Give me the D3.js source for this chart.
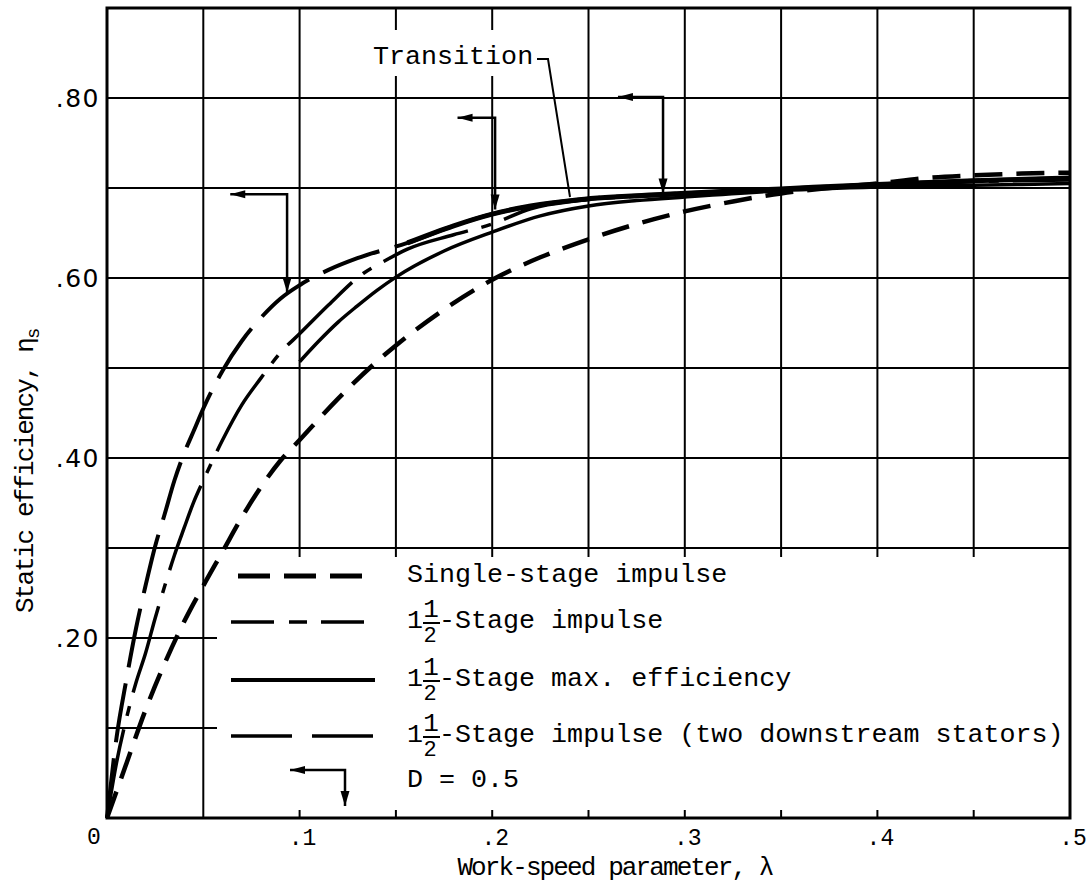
<!DOCTYPE html>
<html>
<head>
<meta charset="utf-8">
<script src="https://cdn.jsdelivr.net/npm/d3@7"></script>
<style>
  body { margin: 0; background: #fff; }
</style>
</head>
<body>
<svg id="chart"></svg>
<script>
// axis ticks / grid
const lamTicks = [0.1, 0.2, 0.3, 0.4, 0.5];
const etaTicks = [0.2, 0.4, 0.6, 0.8];
const lamGrid = [0.05, 0.1, 0.15, 0.2, 0.25, 0.3, 0.35, 0.4, 0.45];
const etaGrid = [0.1, 0.2, 0.3, 0.4, 0.5, 0.6, 0.7, 0.8];

// [lambda, eta]
const singleStage = [[0,0],[0.01,0.06],[0.02,0.12],[0.03,0.172],[0.04,0.218],[0.05,0.258],[0.06,0.296],
  [0.07,0.334],[0.08,0.368],[0.09,0.397],[0.1,0.42],[0.12,0.466],[0.14,0.507],[0.15,0.525],[0.175,0.565],
  [0.2,0.598],[0.225,0.623],[0.25,0.643],[0.275,0.66],[0.3,0.674],[0.325,0.685],[0.35,0.694],[0.375,0.7],
  [0.4,0.705],[0.425,0.711],[0.45,0.714],[0.475,0.716],[0.5,0.717]];
const halfImpulse = [[0,0],[0.005,0.062],[0.01,0.11],[0.015,0.15],[0.02,0.183],[0.025,0.222],[0.03,0.258],
  [0.035,0.292],[0.04,0.322],[0.045,0.351],[0.05,0.375],[0.06,0.42],[0.07,0.459],[0.08,0.489],[0.09,0.517],
  [0.1,0.538],[0.115,0.57],[0.133,0.605],[0.145,0.62],[0.156,0.632],[0.18,0.648],[0.2,0.66],[0.22,0.677],
  [0.245,0.686],[0.29,0.692],[0.35,0.698],[0.4,0.703],[0.45,0.707],[0.5,0.709]];
const halfMaxEff = [[0.1,0.507],[0.11,0.53],[0.12,0.551],[0.13,0.569],[0.14,0.586],[0.15,0.601],[0.175,0.63],
  [0.2,0.651],[0.225,0.669],[0.25,0.68],[0.275,0.686],[0.3,0.69],[0.35,0.697],[0.4,0.701],[0.45,0.703],[0.5,0.705]];
const halfStators = [[0,0],[0.005,0.09],[0.01,0.153],[0.015,0.21],[0.02,0.258],[0.025,0.302],[0.03,0.338],
  [0.035,0.375],[0.04,0.405],[0.045,0.43],[0.05,0.455],[0.06,0.497],[0.07,0.53],[0.08,0.556],[0.09,0.577],
  [0.1,0.592],[0.115,0.609],[0.13,0.622],[0.156,0.639],[0.18,0.658],[0.2,0.671],[0.22,0.68],[0.245,0.687],
  [0.29,0.693],[0.35,0.699],[0.4,0.704],[0.45,0.708],[0.5,0.711]];

// D = 0.5 markers: point on curve, height of corner, end of left arrow
const dMarks = [
  {lam: 0.0935, eta: 0.584, etaTop: 0.693, lamTip: 0.064},
  {lam: 0.2015, eta: 0.676, etaTop: 0.778, lamTip: 0.182},
  {lam: 0.2887, eta: 0.694, etaTop: 0.801, lamTip: 0.2653}
];
const transitionPoint = [0.2404, 0.69];

const legendLabels = ['Single-stage impulse', '1\u00bd-Stage impulse', '1\u00bd-Stage max. efficiency',
  '1\u00bd-Stage impulse (two downstream stators)', 'D = 0.5'];

const MONO = "'Liberation Mono', 'Courier New', monospace";
const SANS = "'DejaVu Sans', sans-serif";

const width = 1087;
const height = 882;
const svg = d3.select('#chart')
  .attr('width', width)
  .attr('height', height);

const x = d3.scaleLinear().domain([0, 0.5]).range([107, 1070]);
const y = d3.scaleLinear().domain([0, 0.9]).range([818, 8]);
const legendLeft = 217;

function drawGrid() {
  const g = svg.append('g').attr('stroke', '#000').attr('stroke-width', 2);
  g.selectAll('line.v')
    .data(lamGrid)
    .enter()
    .append('line')
    .attr('x1', d => x(d))
    .attr('x2', d => x(d))
    .attr('y1', y(0.9))
    .attr('y2', d => d < 0.075 ? y(0) : y(0.3));
  // little stubs under the .30 line and on the bottom axis
  const stubs = lamGrid.filter(d => d > 0.075);
  g.selectAll('line.s1')
    .data(stubs)
    .enter()
    .append('line')
    .attr('x1', d => x(d))
    .attr('x2', d => x(d))
    .attr('y1', y(0.3))
    .attr('y2', y(0.3) + 9);
  g.selectAll('line.s2')
    .data(stubs)
    .enter()
    .append('line')
    .attr('x1', d => x(d))
    .attr('x2', d => x(d))
    .attr('y1', y(0))
    .attr('y2', y(0) - 8);
  g.selectAll('line.h')
    .data(etaGrid)
    .enter()
    .append('line')
    .attr('x1', x(0))
    .attr('x2', d => d < 0.25 ? legendLeft : x(0.5))
    .attr('y1', d => y(d))
    .attr('y2', d => y(d));

  svg.append('rect')
    .attr('x', x(0))
    .attr('y', y(0.9))
    .attr('width', x(0.5) - x(0))
    .attr('height', y(0) - y(0.9))
    .attr('fill', 'none')
    .attr('stroke', '#000')
    .attr('stroke-width', 3);
}

function drawAxes() {
  svg.selectAll('text.yt')
    .data(etaTicks)
    .enter()
    .append('text')
    .text(d => d3.format('.2f')(d).replace('0.', '.'))
    .attr('x', 100)
    .attr('y', d => y(d) + 9)
    .attr('text-anchor', 'end')
    .attr('font-family', SANS)
    .attr('font-size', '25px')
    .attr('letter-spacing', '1.5px');

  svg.selectAll('text.xt')
    .data(lamTicks)
    .enter()
    .append('text')
    .text(d => String(d).replace('0.', '.'))
    .attr('x', d => x(d) + 3)
    .attr('y', 845)
    .attr('text-anchor', 'middle')
    .attr('font-family', MONO)
    .attr('font-size', '23px');

  svg.append('text')
    .text('0')
    .attr('x', 94)
    .attr('y', 844)
    .attr('text-anchor', 'middle')
    .attr('font-family', MONO)
    .attr('font-size', '23px');

  svg.append('text')
    .text('Work-speed parameter, \u03bb')
    .attr('x', 615)
    .attr('y', 875)
    .attr('text-anchor', 'middle')
    .attr('font-family', MONO)
    .attr('font-size', '26px')
    .attr('letter-spacing', '-1.9px');

  const yt = svg.append('text')
    .attr('transform', 'translate(33,613) rotate(-90)')
    .attr('font-family', MONO)
    .attr('font-size', '26px')
    .attr('letter-spacing', '-1.9px');
  yt.append('tspan').text('Static efficiency, \u03b7');
  yt.append('tspan').text('s').attr('font-size', '19px').attr('dy', 6);
}

const line = d3.line()
  .x(d => x(d[0]))
  .y(d => y(d[1]))
  .curve(d3.curveMonotoneX);

function drawCurves() {
  const series = [
    {data: singleStage, dash: '28,14', w: 4.5},
    {data: halfImpulse, dash: '90,14,10,14', w: 3.5},
    {data: halfMaxEff, dash: null, w: 3.5},
    {data: halfStators, dash: '60,16', w: 4}
  ];
  svg.selectAll('path.curve')
    .data(series)
    .enter()
    .append('path')
    .attr('d', d => line(d.data))
    .attr('fill', 'none')
    .attr('stroke', '#000')
    .attr('stroke-width', d => d.w)
    .attr('stroke-dasharray', d => d.dash);
  // past the transition the stator curve is drawn full
  svg.append('path')
    .attr('d', line(halfStators.filter(d => d[0] >= 0.156)))
    .attr('fill', 'none')
    .attr('stroke', '#000')
    .attr('stroke-width', 5);
}

function arrowHead(g, tx, ty, dir) {
  // dir: 'down' or 'left'
  const p = dir === 'down'
    ? [[tx, ty], [tx - 4.5, ty - 15], [tx + 4.5, ty - 15]]
    : [[tx, ty], [tx + 15, ty - 4], [tx + 15, ty + 4]];
  g.append('path').attr('d', 'M' + p.join('L') + 'Z').attr('fill', '#000');
}

function dMarker(g, xc, yCorner, xTip, yTip) {
  g.append('path')
    .attr('d', `M${xTip},${yCorner}H${xc}V${yTip}`)
    .attr('fill', 'none')
    .attr('stroke', '#000')
    .attr('stroke-width', 2.5);
  arrowHead(g, xc, yTip, 'down');
  arrowHead(g, xTip, yCorner, 'left');
}

function drawAnnotations() {
  const g = svg.append('g');
  dMarks.forEach(m => dMarker(g, x(m.lam), y(m.etaTop), x(m.lamTip), y(m.eta)));

  g.append('rect')
    .attr('x', 366)
    .attr('y', 30)
    .attr('width', 186)
    .attr('height', 46)
    .attr('fill', '#fff');
  g.append('text')
    .text('Transition')
    .attr('x', 373)
    .attr('y', 64)
    .attr('font-family', MONO)
    .attr('font-size', '26.7px');
  g.append('path')
    .attr('d', `M537,59H548L${x(transitionPoint[0])},${y(transitionPoint[1])}`)
    .attr('fill', 'none')
    .attr('stroke', '#000')
    .attr('stroke-width', 2);
}

function drawLegend() {
  const rows = [582, 628, 686, 742, 787];
  const sample = [
    {dash: '32,14', w: 5},
    {dash: '43,15,18,14', w: 3.5},
    {dash: null, w: 4},
    {dash: '61,20', w: 3.5}
  ];
  const g = svg.append('g');
  g.selectAll('line')
    .data(sample)
    .enter()
    .append('line')
    .attr('x1', (d, i) => i === 0 ? 238 : 231)
    .attr('x2', 375)
    .attr('y1', (d, i) => rows[i] - 6)
    .attr('y2', (d, i) => rows[i] - 6)
    .attr('stroke', '#000')
    .attr('stroke-width', d => d.w)
    .attr('stroke-dasharray', d => d.dash);

  dMarker(g, 345, 770, 290, 806);

  legendLabels.forEach((t, i) => {
    const base = rows[i];
    if (t.startsWith('1\u00bd')) {
      g.append('text').text('1').attr('x', 407).attr('y', base)
        .attr('font-family', MONO).attr('font-size', '26.7px');
      g.append('text').text('1').attr('x', 431).attr('y', base - 11)
        .attr('text-anchor', 'middle').attr('font-family', MONO).attr('font-size', '26px');
      g.append('line').attr('x1', 423).attr('x2', 440).attr('y1', base - 5).attr('y2', base - 5)
        .attr('stroke', '#000').attr('stroke-width', 2);
      g.append('text').text('2').attr('x', 430).attr('y', base + 14)
        .attr('text-anchor', 'middle').attr('font-family', MONO).attr('font-size', '22px');
      g.append('text').text(t.slice(2)).attr('x', 439).attr('y', base)
        .attr('font-family', MONO).attr('font-size', '26.7px');
    } else {
      g.append('text').text(t).attr('x', 407).attr('y', base)
        .attr('font-family', MONO).attr('font-size', '26.7px');
    }
  });
}

drawGrid();
drawCurves();
drawAnnotations();
drawAxes();
drawLegend();
</script>
</body>
</html>
